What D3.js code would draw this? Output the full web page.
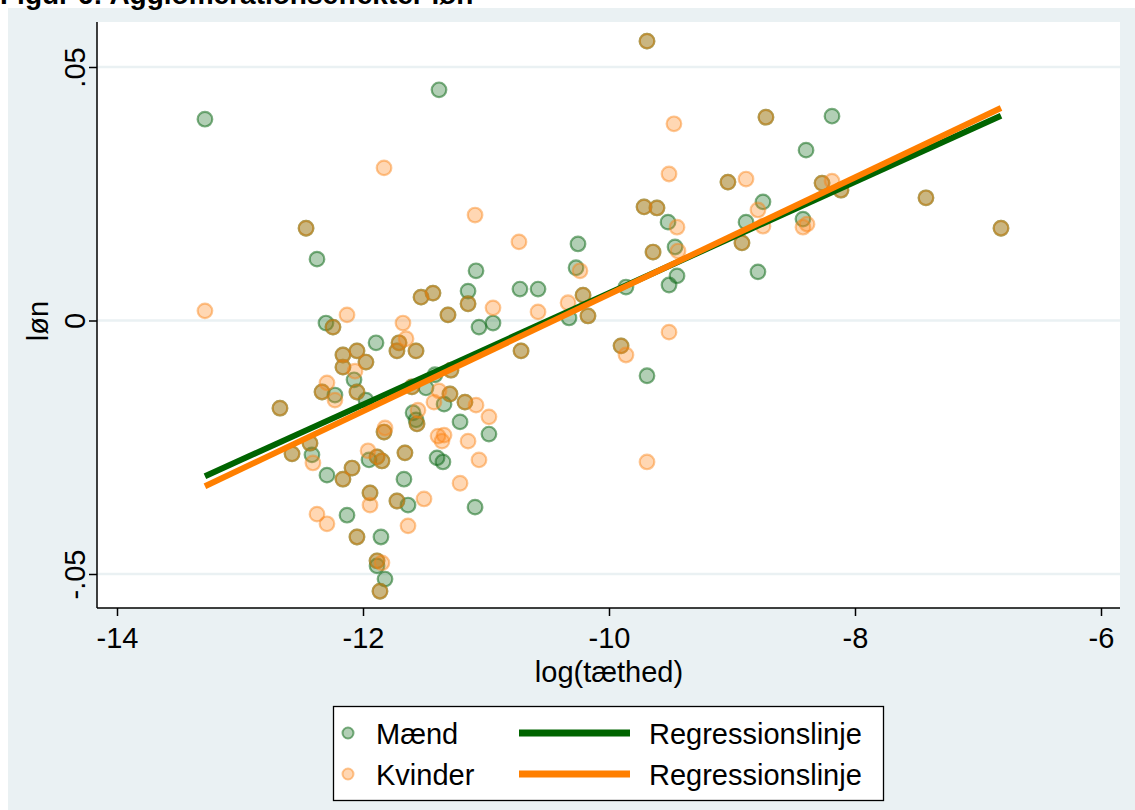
<!DOCTYPE html>
<html><head><meta charset="utf-8">
<script src="https://cdnjs.cloudflare.com/ajax/libs/d3/7.8.5/d3.min.js"></script>
<style>
html,body{margin:0;padding:0;background:#fff;}
svg{display:block;font-family:"Liberation Sans",Arial,sans-serif;}
</style></head>
<body>
<svg id="c" width="1135" height="810"></svg>
<script>
// ---- data ----
const titleText = "Figur 6: Agglomerationseffekter løn";
const xLabel = "log(tæthed)";
const yLabel = "løn";
const xTicks = [-14, -12, -10, -8, -6];
const xTickLabels = ["-14", "-12", "-10", "-8", "-6"];
const yTicks = [-0.05, 0, 0.05];
const yTickLabels = ["-.05", "0", ".05"];
const seriesNames = ["Mænd", "Kvinder"];
const lineNames = ["Regressionslinje", "Regressionslinje"];

// Mænd (men): log density, wage
const menX = [-12.463,-11.528,-11.431,-12.244,-9.691,-9.033,-9.715,-9.610,-9.642,-8.919,
  -11.146,-10.211,-10.171,-11.309,-8.724,-8.268,-8.114,-7.423,-6.813,-11.707,
  -11.724,-11.569,-12.163,-12.049,-11.976,-12.163,-12.049,-12.333,-12.675,-11.561,
  -11.829,-12.431,-12.577,-12.089,-12.163,-11.886,-11.846,-11.659,-11.943,-11.724,
  -12.049,-11.886,-11.862,-10.715,-11.285,-11.293,-11.171,-11.602,-9.902,
  -13.285,-12.374,-12.301,-11.382,-10.252,-9.520,-8.886,-9.463,-11.081,-11.146,
  -10.724,-10.577,-10.268,-9.862,-9.447,-9.512,-8.187,-8.398,-8.748,-8.423,
  -8.789,-11.894,-12.073,-12.228,-11.593,-11.569,-12.415,-12.293,-11.951,-11.667,
  -11.634,-12.130,-11.854,-11.886,-11.821,-11.211,-10.976,-11.398,-11.350,-11.089,
  -10.943,-11.057,-11.415,-11.341,-11.488,-9.691,-10.325,-11.976];
const menY = [0.0182,0.0046,0.0054,-0.0013,0.0551,0.0273,0.0224,0.0222,0.0135,0.0153,
  0.0033,0.0050,0.0009,0.0011,0.0401,0.0271,0.0257,0.0242,0.0182,-0.0044,
  -0.0060,-0.0060,-0.0068,-0.0060,-0.0082,-0.0092,-0.0141,-0.0141,-0.0173,-0.0204,
  -0.0220,-0.0242,-0.0263,-0.0291,-0.0313,-0.0269,-0.0277,-0.0261,-0.0340,-0.0356,
  -0.0427,-0.0474,-0.0534,-0.0060,-0.0098,-0.0145,-0.0161,-0.0131,-0.0050,
  0.0397,0.0121,-0.0005,0.0455,0.0151,0.0194,0.0194,0.0145,0.0098,0.0058,
  0.0062,0.0062,0.0104,0.0066,0.0088,0.0070,0.0403,0.0336,0.0234,0.0200,
  0.0096,-0.0044,-0.0117,-0.0147,-0.0182,-0.0196,-0.0265,-0.0305,-0.0275,-0.0313,
  -0.0364,-0.0384,-0.0427,-0.0484,-0.0510,-0.0200,-0.0224,-0.0271,-0.0279,-0.0368,
  -0.0005,-0.0013,-0.0107,-0.0165,-0.0133,-0.0109,0.0005,-0.0157];

// Kvinder (women): log density, wage
const womenX = [-12.463,-11.528,-11.431,-12.244,-9.691,-9.033,-9.715,-9.610,-9.642,-8.919,
  -11.146,-10.211,-10.171,-11.309,-8.724,-8.268,-8.114,-7.423,-6.813,-11.707,
  -11.724,-11.569,-12.163,-12.049,-11.976,-12.163,-12.049,-12.333,-12.675,-11.561,
  -11.829,-12.431,-12.577,-12.089,-12.163,-11.886,-11.846,-11.659,-11.943,-11.724,
  -12.049,-11.886,-11.862,-10.715,-11.285,-11.293,-11.171,-11.602,-9.902,
  -13.285,-11.829,-12.130,-11.675,-9.472,-9.512,-8.886,-11.089,-10.732,-9.447,
  -9.439,-10.943,-10.577,-10.236,-10.333,-8.187,-8.789,-8.748,-8.423,-8.390,
  -11.650,-12.065,-12.293,-12.228,-11.553,-11.821,-12.407,-11.959,-11.943,-11.504,
  -12.374,-12.293,-11.634,-11.846,-10.976,-11.390,-11.341,-11.358,-11.146,-11.057,
  -11.211,-11.382,-11.423,-11.081,-9.512,-9.862,-9.691];
const womenY = [0.0182,0.0046,0.0054,-0.0013,0.0551,0.0273,0.0224,0.0222,0.0135,0.0153,
  0.0033,0.0050,0.0009,0.0011,0.0401,0.0271,0.0257,0.0242,0.0182,-0.0044,
  -0.0060,-0.0060,-0.0068,-0.0060,-0.0082,-0.0092,-0.0141,-0.0141,-0.0173,-0.0204,
  -0.0220,-0.0242,-0.0263,-0.0291,-0.0313,-0.0269,-0.0277,-0.0261,-0.0340,-0.0356,
  -0.0427,-0.0474,-0.0534,-0.0060,-0.0098,-0.0145,-0.0161,-0.0131,-0.0050,
  0.0019,0.0301,0.0011,-0.0005,0.0388,0.0289,0.0279,0.0208,0.0155,0.0184,
  0.0137,0.0025,0.0017,0.0098,0.0035,0.0275,0.0218,0.0186,0.0184,0.0190,
  -0.0036,-0.0100,-0.0123,-0.0157,-0.0177,-0.0212,-0.0281,-0.0257,-0.0364,-0.0352,
  -0.0382,-0.0401,-0.0405,-0.0478,-0.0190,-0.0228,-0.0226,-0.0238,-0.0238,-0.0275,
  -0.0321,-0.0139,-0.0161,-0.0167,-0.0023,-0.0068,-0.0279];

// fitted regression lines (endpoints over data range)
const menFitX = [-13.285, -6.813];
const menFitY = [-0.0307, 0.0404];
const womenFitX = [-13.285, -6.813];
const womenFitY = [-0.0327, 0.0419];

// ---- drawing ----
const svg = d3.select("#c");
const W = 1135, H = 810;
const plot = {left: 97, right: 1120, top: 22, bottom: 608};
const FS = 29;

svg.append("rect").attr("x", 0).attr("y", 0).attr("width", W).attr("height", H).attr("fill", "#ffffff");
svg.append("rect").attr("x", 8).attr("y", 8).attr("width", W - 8).attr("height", H - 8).attr("fill", "#eaf1f3");

svg.append("text").attr("x", 0).attr("y", 4)
  .attr("font-size", 28).attr("font-weight", "bold").attr("fill", "#000")
  .text(titleText);

svg.append("rect").attr("x", plot.left).attr("y", plot.top)
  .attr("width", plot.right - plot.left).attr("height", plot.bottom - plot.top)
  .attr("fill", "#ffffff");

const x = d3.scaleLinear().domain([-14, -6]).range([117, 1101]);
const y = d3.scaleLinear().domain([-0.05, 0.05]).range([574, 67]);

// gridlines
svg.append("g").selectAll("line").data(yTicks).join("line")
  .attr("x1", plot.left).attr("x2", plot.right)
  .attr("y1", d => y(d)).attr("y2", d => y(d))
  .attr("stroke", "#eaf1f3").attr("stroke-width", 2.5);

// points
const men = menX.map((v, i) => ({x: v, y: menY[i]}));
const women = womenX.map((v, i) => ({x: v, y: womenY[i]}));
const R = 7.3;
const mk = [
  {fill: "rgba(20,110,30,0.33)", stroke: "rgba(20,110,30,0.55)"},
  {fill: "rgba(255,130,20,0.32)", stroke: "rgba(250,130,20,0.45)"}];
svg.append("g").selectAll("circle").data(men).join("circle")
  .attr("cx", d => x(d.x)).attr("cy", d => y(d.y)).attr("r", R)
  .attr("fill", mk[0].fill).attr("stroke", mk[0].stroke).attr("stroke-width", 2.2);
svg.append("g").selectAll("circle").data(women).join("circle")
  .attr("cx", d => x(d.x)).attr("cy", d => y(d.y)).attr("r", R)
  .attr("fill", mk[1].fill).attr("stroke", mk[1].stroke).attr("stroke-width", 2.2);

// regression lines
const line = d3.line().x(d => x(d[0])).y(d => y(d[1]));
svg.append("path").attr("d", line(menFitX.map((v, i) => [v, menFitY[i]])))
  .attr("stroke", "#006400").attr("stroke-width", 6).attr("fill", "none");
svg.append("path").attr("d", line(womenFitX.map((v, i) => [v, womenFitY[i]])))
  .attr("stroke", "#ff7f00").attr("stroke-width", 6).attr("fill", "none");

// axes
const xAxis = d3.axisBottom(x).tickValues(xTicks).tickSize(8).tickPadding(11)
  .tickFormat((d, i) => xTickLabels[i]);
const gx = svg.append("g").attr("transform", `translate(0,${plot.bottom})`).call(xAxis);
gx.select(".domain").attr("d", `M${plot.left},0H${plot.right}`).attr("stroke", "#000").attr("stroke-width", 1.5);
gx.selectAll(".tick line").attr("stroke", "#000").attr("stroke-width", 1.5);
gx.selectAll(".tick text").attr("font-size", FS).attr("fill", "#000")
  .attr("font-family", "Liberation Sans, Arial, sans-serif");

const yAxis = d3.axisLeft(y).tickValues(yTicks).tickSize(8).tickPadding(10)
  .tickFormat((d, i) => yTickLabels[i]);
const gy = svg.append("g").attr("transform", `translate(${plot.left},0)`).call(yAxis);
gy.select(".domain").attr("d", `M0,${plot.top}V${plot.bottom}`).attr("stroke", "#000").attr("stroke-width", 1.5);
gy.selectAll(".tick line").attr("stroke", "#000").attr("stroke-width", 1.5);
gy.selectAll(".tick text").attr("font-size", FS).attr("fill", "#000")
  .attr("font-family", "Liberation Sans, Arial, sans-serif")
  .attr("text-anchor", "middle").attr("dy", 0).attr("x", 0)
  .attr("transform", "translate(-12,0) rotate(-90)");

svg.append("text").attr("x", 609).attr("y", 682).attr("text-anchor", "middle")
  .attr("font-size", FS).attr("fill", "#000").text(xLabel);
svg.append("text").attr("transform", "translate(48,321) rotate(-90)").attr("text-anchor", "middle")
  .attr("font-size", FS).attr("fill", "#000").text(yLabel);

// legend
const lg = svg.append("g");
lg.append("rect").attr("x", 333.5).attr("y", 706.5).attr("width", 550).attr("height", 94)
  .attr("fill", "#ffffff").attr("stroke", "#000").attr("stroke-width", 1.3);
const rows = [733, 774];
const lineCols = ["#006400", "#ff7f00"];
seriesNames.forEach((n, i) => {
  lg.append("circle").attr("cx", 348).attr("cy", rows[i]).attr("r", 5.5)
    .attr("fill", mk[i].fill).attr("stroke", mk[i].stroke).attr("stroke-width", 2);
  lg.append("text").attr("x", 376).attr("y", rows[i] + 10.5).attr("font-size", FS).attr("fill", "#000").text(n);
  lg.append("line").attr("x1", 519).attr("x2", 630).attr("y1", rows[i]).attr("y2", rows[i])
    .attr("stroke", lineCols[i]).attr("stroke-width", 7);
  lg.append("text").attr("x", 649).attr("y", rows[i] + 10.5).attr("font-size", FS).attr("fill", "#000").text(lineNames[i]);
});
</script>
</body></html>
